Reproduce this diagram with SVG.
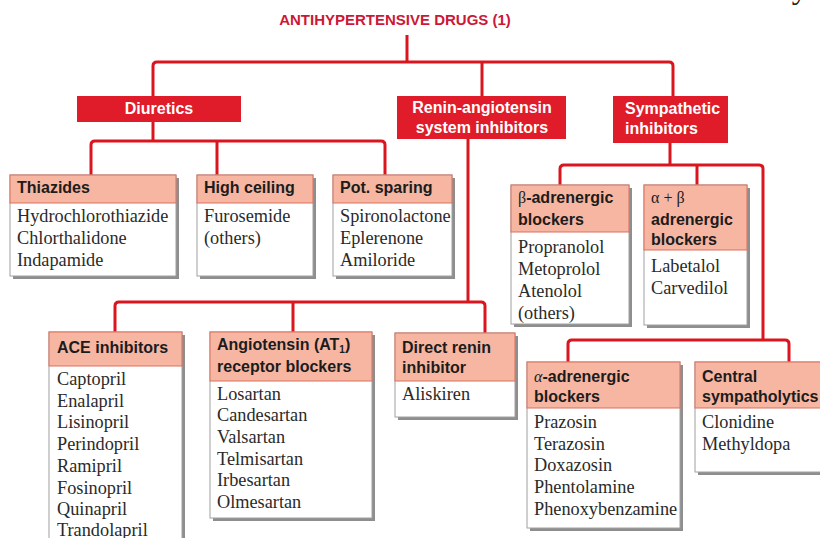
<svg xmlns="http://www.w3.org/2000/svg" width="820" height="538" viewBox="0 0 820 538">
<style>
.ln{fill:none;stroke:#d9161f;stroke-width:3;stroke-linejoin:round;stroke-linecap:butt}
.rb{fill:#e01b2a}
.rt{font-family:"Liberation Sans",Arial,sans-serif;font-weight:bold;font-size:16px;fill:#ffffff}
.sh{fill:#8e8e8e}
.bd{fill:#ffffff;stroke:#a0a0a0;stroke-width:1}
.hd{fill:#f6b6a2;stroke:#d9705f;stroke-width:1}
.ht{font-family:"Liberation Sans",Arial,sans-serif;font-weight:bold;font-size:16px;fill:#1c1c1c}
.it{font-family:"Liberation Serif","Times New Roman",serif;font-size:18.3px;fill:#2a2a2a}
.gk{font-family:"Liberation Serif","Times New Roman",serif;font-weight:normal}
.ti{font-family:"Liberation Sans",Arial,sans-serif;font-weight:bold;font-size:15px;fill:#cc1836}
.top{font-family:"Liberation Serif","Times New Roman",serif;font-size:32px;fill:#222}
</style>
<rect width="820" height="538" fill="#ffffff"/>
<text class="top" x="502" y="-2">Classification of Antihy</text>
<g id="title"><text class="ti" x="395" y="25" text-anchor="middle">ANTIHYPERTENSIVE DRUGS (1)</text></g>

<g id="connectors">
<path class="ln" d="M407,35 V62"/>
<path class="ln" d="M153,96 V66 Q153,62 157,62 H669 Q673,62 673,66 V96"/>
<path class="ln" d="M482,62 V96"/>
<path class="ln" d="M153,122 V141"/>
<path class="ln" d="M91,175 V145 Q91,141 95,141 H381 Q385,141 385,145 V175"/>
<path class="ln" d="M217,141 V175"/>
<path class="ln" d="M468,139 V302"/>
<path class="ln" d="M115,332 V306 Q115,302 119,302 H481 Q485,302 485,306 V333"/>
<path class="ln" d="M293,302 V332"/>
<path class="ln" d="M670,143 V165"/>
<path class="ln" d="M560,185 V169 Q560,165 564,165 H759 Q763,165 763,169 V340"/>
<path class="ln" d="M697,165 V185"/>
<path class="ln" d="M568,362 V344 Q568,340 572,340 H785 Q789,340 789,344 V362"/>
</g>

<g id="diuretics">
<rect class="rb" x="77" y="96" width="164" height="26"/>
<text class="rt" x="159" y="114" text-anchor="middle">Diuretics</text>
</g>
<g id="renin">
<rect class="rb" x="397" y="96" width="169" height="43"/>
<text class="rt" x="482" y="113" text-anchor="middle">Renin-angiotensin</text>
<text class="rt" x="482" y="133" text-anchor="middle">system inhibitors</text>
</g>
<g id="sympathetic">
<rect class="rb" x="613" y="96" width="115" height="47"/>
<text class="rt" x="625" y="114">Sympathetic</text>
<text class="rt" x="625" y="134">inhibitors</text>
</g>

<g id="thiazides">
<rect class="sh" x="13" y="178" width="166" height="101"/>
<rect class="bd" x="10" y="175" width="166" height="101"/>
<rect class="hd" x="10" y="175" width="166" height="28"/>
<text class="ht" x="17" y="193">Thiazides</text>
<text class="it" x="17" y="222">Hydrochlorothiazide</text>
<text class="it" x="17" y="244">Chlorthalidone</text>
<text class="it" x="17" y="266">Indapamide</text>
</g>
<g id="highceiling">
<rect class="sh" x="200" y="178" width="116" height="101"/>
<rect class="bd" x="197" y="175" width="116" height="101"/>
<rect class="hd" x="197" y="175" width="116" height="28"/>
<text class="ht" x="204" y="193">High ceiling</text>
<text class="it" x="204" y="222">Furosemide</text>
<text class="it" x="204" y="244">(others)</text>
</g>
<g id="potsparing">
<rect class="sh" x="336" y="178" width="119" height="101"/>
<rect class="bd" x="333" y="175" width="119" height="101"/>
<rect class="hd" x="333" y="175" width="119" height="28"/>
<text class="ht" x="340" y="193">Pot. sparing</text>
<text class="it" x="340" y="222">Spironolactone</text>
<text class="it" x="340" y="244">Eplerenone</text>
<text class="it" x="340" y="266">Amiloride</text>
</g>

<g id="beta">
<rect class="sh" x="514" y="188" width="118" height="139"/>
<rect class="bd" x="511" y="185" width="118" height="139"/>
<rect class="hd" x="511" y="185" width="118" height="47"/>
<text class="ht" x="518" y="203"><tspan class="gk">β</tspan>-adrenergic</text>
<text class="ht" x="518" y="225">blockers</text>
<text class="it" x="518" y="253">Propranolol</text>
<text class="it" x="518" y="275">Metoprolol</text>
<text class="it" x="518" y="297">Atenolol</text>
<text class="it" x="518" y="319">(others)</text>
</g>
<g id="alphabeta">
<rect class="sh" x="647" y="188" width="103" height="140"/>
<rect class="bd" x="644" y="185" width="103" height="140"/>
<rect class="hd" x="644" y="185" width="103" height="65"/>
<text class="ht" x="651" y="203"><tspan class="gk">α + β</tspan></text>
<text class="ht" x="651" y="225">adrenergic</text>
<text class="ht" x="651" y="245">blockers</text>
<text class="it" x="651" y="272">Labetalol</text>
<text class="it" x="651" y="294">Carvedilol</text>
</g>

<g id="ace">
<rect class="sh" x="52" y="335" width="133" height="215"/>
<rect class="bd" x="49" y="332" width="133" height="215"/>
<rect class="hd" x="49" y="332" width="133" height="34"/>
<text class="ht" x="57" y="353">ACE inhibitors</text>
<text class="it" x="57" y="385">Captopril</text>
<text class="it" x="57" y="407">Enalapril</text>
<text class="it" x="57" y="428">Lisinopril</text>
<text class="it" x="57" y="450">Perindopril</text>
<text class="it" x="57" y="472">Ramipril</text>
<text class="it" x="57" y="494">Fosinopril</text>
<text class="it" x="57" y="515">Quinapril</text>
<text class="it" x="57" y="536">Trandolapril</text>
</g>
<g id="arb">
<rect class="sh" x="213" y="335" width="162" height="186"/>
<rect class="bd" x="210" y="332" width="162" height="186"/>
<rect class="hd" x="210" y="332" width="162" height="49"/>
<text class="ht" x="217" y="350">Angiotensin (AT<tspan font-size="10" dy="3">1</tspan><tspan dy="-3">)</tspan></text>
<text class="ht" x="217" y="372">receptor blockers</text>
<text class="it" x="217" y="400">Losartan</text>
<text class="it" x="217" y="421">Candesartan</text>
<text class="it" x="217" y="443">Valsartan</text>
<text class="it" x="217" y="465">Telmisartan</text>
<text class="it" x="217" y="486">Irbesartan</text>
<text class="it" x="217" y="508">Olmesartan</text>
</g>
<g id="directrenin">
<rect class="sh" x="398" y="336" width="120" height="84"/>
<rect class="bd" x="395" y="333" width="120" height="84"/>
<rect class="hd" x="395" y="333" width="120" height="48"/>
<text class="ht" x="402" y="353">Direct renin</text>
<text class="ht" x="402" y="373">inhibitor</text>
<text class="it" x="402" y="400">Aliskiren</text>
</g>
<g id="alpha">
<rect class="sh" x="530" y="365" width="153" height="166"/>
<rect class="bd" x="527" y="362" width="153" height="166"/>
<rect class="hd" x="527" y="362" width="153" height="46"/>
<text class="ht" x="534" y="382"><tspan class="gk" font-style="italic">α</tspan>-adrenergic</text>
<text class="ht" x="534" y="402">blockers</text>
<text class="it" x="534" y="428">Prazosin</text>
<text class="it" x="534" y="450">Terazosin</text>
<text class="it" x="534" y="471">Doxazosin</text>
<text class="it" x="534" y="493">Phentolamine</text>
<text class="it" x="534" y="515">Phenoxybenzamine</text>
</g>
<g id="central">
<rect class="sh" x="698" y="365" width="130" height="110"/>
<rect class="bd" x="695" y="362" width="130" height="110"/>
<rect class="hd" x="695" y="362" width="130" height="46"/>
<text class="ht" x="702" y="382">Central</text>
<text class="ht" x="702" y="402">sympatholytics</text>
<text class="it" x="702" y="428">Clonidine</text>
<text class="it" x="702" y="450">Methyldopa</text>
</g>
</svg>
